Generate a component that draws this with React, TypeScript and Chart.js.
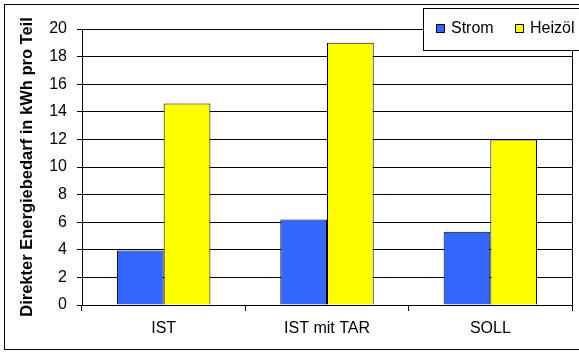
import React, { useEffect, useRef } from "react";
import { Chart, registerables } from "chart.js";

Chart.register(...registerables);

const categories = ["IST", "IST mit TAR", "SOLL"];
const stromValues = [3.95, 6.2, 5.3];
const heizoelValues = [14.6, 19.0, 12.0];
const seriesLabels = ["Strom", "Heizöl"];
const seriesColors = ["#3366FF", "#FFFF00"];
const axisTitle = "Direkter Energiebedarf in kWh pro Teil";
const yMin = 0;
const yMax = 20;
const yStep = 2;

const FONT = "'Liberation Sans', Arial, sans-serif";

// Frame around the whole figure, right border of the plot and a boxed legend
const framePlugin = {
  id: "frameAndLegend",
  beforeDraw(chart: any) {
    const { ctx, width, height } = chart;
    ctx.save();
    ctx.fillStyle = "#ffffff";
    ctx.fillRect(0, 0, width, height);
    ctx.restore();
  },
  afterDraw(chart: any) {
    const { ctx, chartArea } = chart;
    ctx.save();
    ctx.strokeStyle = "#000000";
    ctx.lineWidth = 1;
    // outer frame
    ctx.strokeRect(4.5, 4.5, 620, 345);
    // plot right edge
    ctx.beginPath();
    ctx.moveTo(Math.round(chartArea.right) + 0.5, chartArea.top);
    ctx.lineTo(Math.round(chartArea.right) + 0.5, chartArea.bottom);
    ctx.stroke();

    // legend box
    const lx = 423;
    const ly = 8;
    ctx.fillStyle = "#ffffff";
    ctx.fillRect(lx, ly, 200, 43);
    ctx.strokeRect(lx + 0.5, ly + 0.5, 200, 42);

    const entries = chart.data.datasets;
    const offsets = [13, 92];
    ctx.font = `16px ${FONT}`;
    ctx.textBaseline = "middle";
    entries.forEach((ds: any, i: number) => {
      const sx = lx + offsets[i];
      const sy = 24;
      ctx.fillStyle = ds.backgroundColor;
      ctx.fillRect(sx, sy, 9, 9);
      ctx.strokeStyle = "#000000";
      ctx.strokeRect(sx + 0.5, sy + 0.5, 8, 8);
      ctx.fillStyle = "#000000";
      ctx.fillText(ds.label, sx + 15, sy + 5);
    });
    ctx.restore();
  },
};

export default function App() {
  const canvasRef = useRef<HTMLCanvasElement | null>(null);

  useEffect(() => {
    document.body.style.margin = "0";
    const canvas = canvasRef.current;
    if (!canvas) return;

    const chart = new Chart(canvas, {
      type: "bar",
      data: {
        labels: categories,
        datasets: [
          {
            label: seriesLabels[0],
            data: stromValues,
            backgroundColor: seriesColors[0],
            borderColor: "#000000",
            borderWidth: 1,
          },
          {
            label: seriesLabels[1],
            data: heizoelValues,
            backgroundColor: seriesColors[1],
            borderColor: "#000000",
            borderWidth: 1,
          },
        ],
      },
      options: {
        responsive: false,
        animation: false,
        layout: { padding: { top: 29, right: 7, left: 0, bottom: 0 } },
        datasets: {
          bar: { categoryPercentage: 0.572, barPercentage: 1 },
        },
        plugins: {
          legend: { display: false },
          tooltip: { enabled: false },
        },
        scales: {
          x: {
            grid: {
              offset: true,
              drawOnChartArea: false,
              drawTicks: true,
              tickLength: 6,
              color: "#000000",
            },
            border: { display: true, color: "#000000", width: 1 },
            ticks: {
              color: "#000000",
              font: { family: FONT, size: 16 },
              padding: 8,
              maxRotation: 0,
            },
            afterFit(scale: any) {
              scale.height = 49;
            },
          },
          y: {
            min: yMin,
            max: yMax,
            grid: {
              color: "#000000",
              tickLength: 5,
              lineWidth: 1,
            },
            border: { display: true, color: "#000000", width: 1 },
            ticks: {
              stepSize: yStep,
              color: "#000000",
              font: { family: FONT, size: 16 },
              padding: 10,
            },
            title: {
              display: true,
              text: axisTitle,
              color: "#000000",
              font: { family: FONT, size: 16.5, weight: "bold" },
              padding: { top: 18, bottom: 0 },
            },
            afterFit(scale: any) {
              scale.width = 82;
            },
          },
        },
      },
      plugins: [framePlugin],
    });

    return () => chart.destroy();
  }, []);

  return (
    <div style={{ width: 579, height: 354 }}>
      <canvas
        ref={canvasRef}
        width={579}
        height={354}
        style={{ display: "block", width: 579, height: 354 }}
      />
    </div>
  );
}
